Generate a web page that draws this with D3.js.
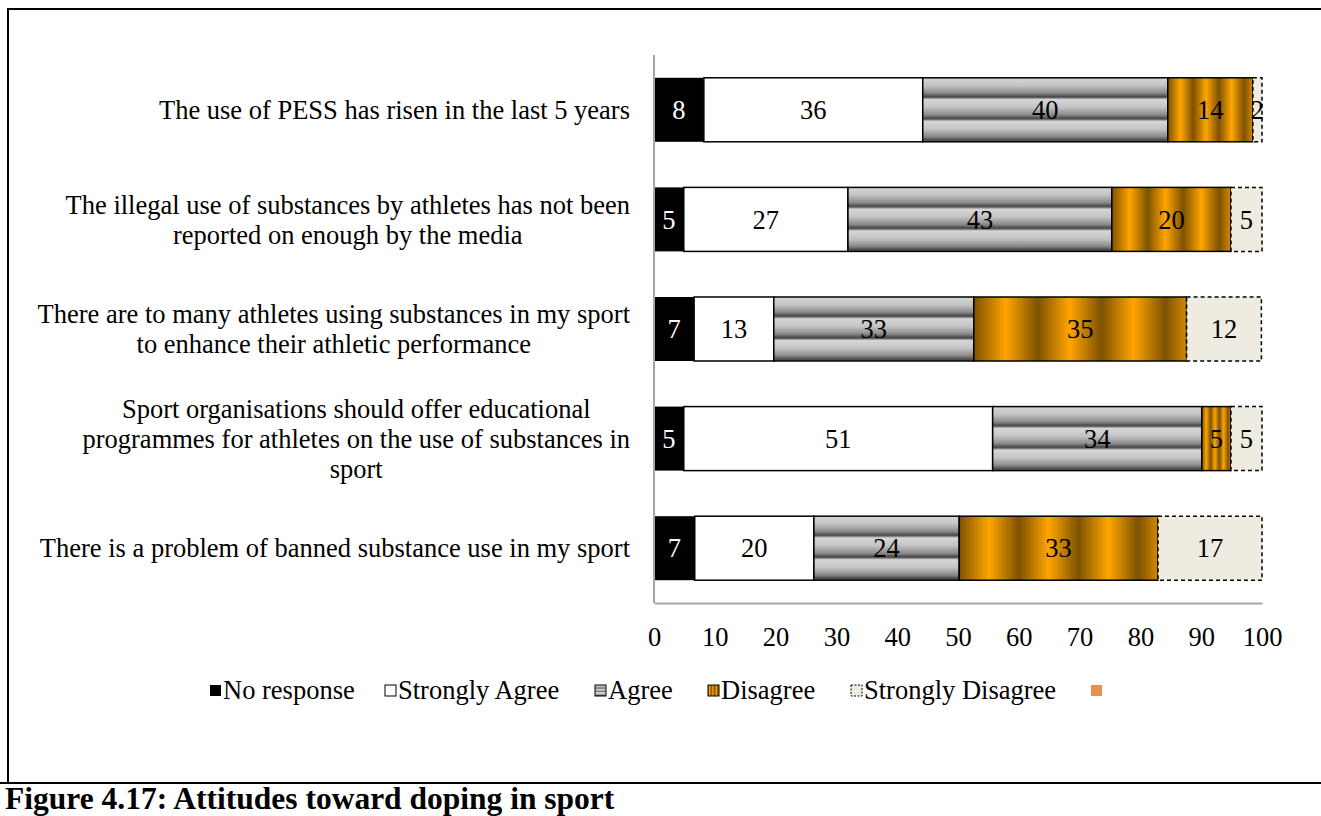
<!DOCTYPE html>
<html>
<head>
<meta charset="utf-8">
<script src="https://cdn.jsdelivr.net/npm/d3@7"></script>
<style>
  html, body { margin: 0; padding: 0; background: #fff; }
  svg { display: block; }
  text { font-family: "Liberation Serif", "Times New Roman", serif; }
</style>
</head>
<body>
<svg id="chart" width="1321" height="816"></svg>
<script>
// ---- data ----
const categories = [
  "The use of PESS has risen in the last 5 years",
  "The illegal use of substances by athletes has not been|reported on enough by the media",
  "There are to many athletes using substances in my sport|to enhance their athletic performance",
  "Sport organisations should offer educational|programmes for athletes on the use of substances in|sport",
  "There is a problem of banned substance use in my sport"
];
const seriesNames = ["No response", "Strongly Agree", "Agree", "Disagree", "Strongly Disagree"];
const noResponse      = [8.2, 4.9, 6.6, 4.9, 6.7];
const stronglyAgree   = [36.0, 27.0, 13.1, 50.8, 19.6];
const agree           = [40.3, 43.4, 32.9, 34.4, 23.9];
const disagree        = [14.0, 19.6, 35.0, 4.8, 32.7];
const stronglyDisagree= [1.5, 5.1, 12.3, 5.1, 17.1];
const xTicks = [0, 10, 20, 30, 40, 50, 60, 70, 80, 90, 100];
const caption = "Figure 4.17: Attitudes toward doping in sport";

const seriesValues = [noResponse, stronglyAgree, agree, disagree, stronglyDisagree];

// ---- setup ----
const svg = d3.select("#chart");
const defs = svg.append("defs");
const FS = 26.5;

// Agree: horizontal gray stripes
const gA = defs.append("linearGradient").attr("id", "gAgree")
  .attr("x1", 0).attr("y1", 0).attr("x2", 0).attr("y2", 0.34)
  .attr("spreadMethod", "repeat");
[[0, "#d6d6d6"], [0.35, "#c4c4c4"], [0.7, "#8a8a8a"], [0.86, "#4a4a4a"], [0.9, "#5a5a5a"], [1, "#d6d6d6"]]
  .forEach(([o, c]) => gA.append("stop").attr("offset", o).attr("stop-color", c));

// Disagree: vertical orange/brown stripes
const gD = defs.append("linearGradient").attr("id", "gDis")
  .attr("x1", 0).attr("y1", 0).attr("x2", 0.3).attr("y2", 0)
  .attr("spreadMethod", "repeat");
[[0, "#7d5200"], [0.5, "#ffa500"], [1, "#7d5200"]]
  .forEach(([o, c]) => gD.append("stop").attr("offset", o).attr("stop-color", c));

const fills = ["#000000", "#ffffff", "url(#gAgree)", "url(#gDis)", "#eeece1"];
const textColors = ["#ffffff", "#000000", "#000000", "#000000", "#000000"];

const x = d3.scaleLinear().domain([0, 100]).range([654, 1262]);
const y = d3.scaleBand().domain(d3.range(categories.length)).range([55, 603])
  .paddingInner(0.416).paddingOuter(0.208);

// ---- outer frame ----
svg.append("line").attr("x1", 8).attr("x2", 1321).attr("y1", 9).attr("y2", 9)
  .attr("stroke", "#000").attr("stroke-width", 2);
svg.append("line").attr("x1", 8).attr("x2", 8).attr("y1", 8).attr("y2", 783)
  .attr("stroke", "#000").attr("stroke-width", 2);
svg.append("line").attr("x1", 0).attr("x2", 1321).attr("y1", 783).attr("y2", 783)
  .attr("stroke", "#000").attr("stroke-width", 2);

// ---- stacked data ----
const rows = categories.map((c, i) => {
  let acc = 0;
  return seriesValues.map((vals, s) => {
    const v = vals[i];
    const seg = { row: i, s, x0: acc, x1: acc + v, v };
    acc += v;
    return seg;
  });
});

const gBars = svg.append("g");
rows.forEach(segs => {
  segs.forEach(d => {
    gBars.append("rect")
      .attr("x", x(d.x0)).attr("y", y(d.row))
      .attr("width", x(d.x1) - x(d.x0)).attr("height", y.bandwidth())
      .attr("fill", fills[d.s])
      .attr("stroke", "#000")
      .attr("stroke-width", d.s === 0 ? 0 : 1.5)
      .attr("stroke-dasharray", d.s === 4 ? "4,3" : null);
  });
});
rows.forEach(segs => {
  segs.forEach(d => {
    gBars.append("text")
      .attr("x", (x(d.x0) + x(d.x1)) / 2)
      .attr("y", y(d.row) + y.bandwidth() / 2)
      .attr("dy", "0.35em")
      .attr("text-anchor", "middle")
      .attr("font-size", FS)
      .attr("fill", textColors[d.s])
      .text(d3.format(".0f")(d.v));
  });
});

// ---- axes ----
svg.append("line").attr("x1", x(0)).attr("x2", x(0)).attr("y1", 55).attr("y2", 603)
  .attr("stroke", "#a6a6a6").attr("stroke-width", 2);
const xAxis = d3.axisBottom(x).tickValues(xTicks).tickSize(0).tickPadding(24).tickFormat(d3.format("d"));
const gx = svg.append("g").attr("transform", "translate(0,603)").call(xAxis);
gx.select(".domain").attr("stroke", "#a6a6a6").attr("stroke-width", 2);
gx.selectAll("text").attr("font-size", FS).attr("fill", "#000")
  .attr("font-family", "Liberation Serif, Times New Roman, serif");

// ---- category labels ----
const lineH = 30;
categories.forEach((c, i) => {
  const lines = c.split("|");
  const cy = y(i) + y.bandwidth() / 2;
  const g = svg.append("g");
  const texts = lines.map((l, k) => g.append("text")
    .attr("font-size", FS)
    .attr("y", cy + (k - (lines.length - 1) / 2) * lineH)
    .attr("dy", "0.35em")
    .attr("text-anchor", "middle")
    .text(l));
  const widths = texts.map(t => t.node().getComputedTextLength());
  const maxW = d3.max(widths);
  const center = 630 - maxW / 2;
  texts.forEach(t => t.attr("x", center));
});

// ---- legend ----
const legendItems = [
  { name: seriesNames[0], x: 210, fill: "#000", stroke: "none", dash: null },
  { name: seriesNames[1], x: 385, fill: "#fff", stroke: "#000", dash: null },
  { name: seriesNames[2], x: 595, fill: "url(#gAgree)", stroke: "#000", dash: null },
  { name: seriesNames[3], x: 708, fill: "url(#gDis)", stroke: "#000", dash: null },
  { name: seriesNames[4], x: 851, fill: "#eeece1", stroke: "#000", dash: "2,1.5" },
  { name: "", x: 1091, fill: "#e8914a", stroke: "none", dash: null }
];
const gl = svg.append("g");
legendItems.forEach(it => {
  gl.append("rect").attr("x", it.x).attr("y", 685).attr("width", 11).attr("height", 11)
    .attr("fill", it.fill).attr("stroke", it.stroke).attr("stroke-width", 1)
    .attr("stroke-dasharray", it.dash);
  if (it.name) gl.append("text").attr("x", it.x + 13).attr("y", 699)
    .attr("font-size", FS).text(it.name);
});

// ---- caption ----
svg.append("text").attr("x", 5).attr("y", 809)
  .attr("font-size", 31.5).attr("font-weight", "bold").text(caption);
</script>
</body>
</html>
